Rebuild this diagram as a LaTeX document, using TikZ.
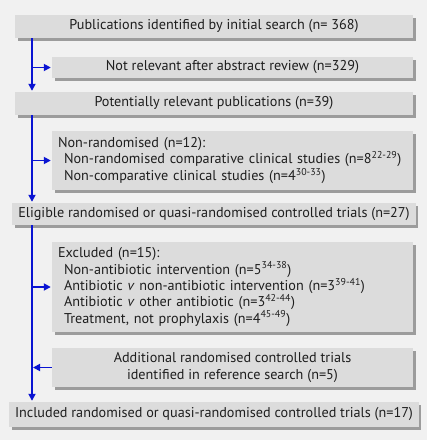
\documentclass[tikz,border=0pt]{standalone}
\usepackage{fontspec}
\setmainfont{PT Sans}
\usepackage{tikz}
\usetikzlibrary{arrows.meta}
\usetikzlibrary{calc}
\usetikzlibrary{shadows}
\definecolor{bgcol}{HTML}{F1F1F1}
\definecolor{boxcol}{HTML}{DCDCDC}
\definecolor{shadowcol}{HTML}{9C9C9C}
\definecolor{txtcol}{HTML}{1E1E1E}
\definecolor{linecol}{HTML}{0A14D2}
\tikzstyle{arrow}= [line width=1.7pt, linecol, -{Triangle[length=7pt,width=7pt]}, shorten >=1pt]

\begin{document}
\begin{tikzpicture}[
		x=1pt, y=-1pt,
    font=\fontsize{14.2}{16.3}\selectfont,
    box/.style={
    fill=boxcol, text=txtcol, inner xsep=6pt, inner ysep=0pt,
    minimum height=23pt,
    drop shadow={shadow xshift=2.5pt, shadow yshift=-2.5pt, fill=shadowcol, opacity=1}
    },
    wide/.style={box, minimum width=398pt},
    narrow/.style={box, minimum width=361pt},
    list/.style={narrow, text width=349pt, align=left}
	]

  \fill[bgcol] (0,0) rectangle (427,440);
  \coordinate (sp) at (32,0);

  \node[wide] (pub) at (214,26.5) {Publications identified by initial search (n= 368)};
  \node[narrow,minimum height=21pt] (notrel) at (232.5,67.5) {Not relevant after abstract review (n=329)};
  \node[wide] (potrel) at (214,103.5) {Potentially relevant publications (n=39)};
  \node[list,minimum height=59pt] (nonrand) at (232.5,160.5) {Non-randomised (n=12):\\
    \hspace*{6pt}Non-randomised comparative clinical studies (n=8\textsuperscript{22-29})\\
    \hspace*{6pt}Non-comparative clinical studies (n=4\textsuperscript{30-33})};
  \node[wide,minimum height=22pt] (elig) at (214,214) {Eligible randomised or quasi-randomised controlled trials (n=27)};
  \node[list,minimum height=90pt] (excl) at (232.5,287) {Excluded (n=15):\\
    \hspace*{6pt}Non-antibiotic intervention (n=5\textsuperscript{34-38})\\
    \hspace*{6pt}Antibiotic \textit{v} non-antibiotic intervention (n=3\textsuperscript{39-41})\\
    \hspace*{6pt}Antibiotic \textit{v} other antibiotic (n=3\textsuperscript{42-44})\\
    \hspace*{6pt}Treatment, not prophylaxis (n=4\textsuperscript{45-49})};
  \node[narrow,minimum height=39pt,align=center] (addl) at (232.5,367.5) {Additional randomised controlled trials\\
    identified in reference search (n=5)};
  \node[wide,minimum height=25pt] (incl) at (214,414.5) {Included randomised or quasi-randomised controlled trials (n=17)};

  % main flow
  \draw[arrow] (pub.south -| sp) -- (potrel.north -| sp);
  \draw[arrow] (potrel.south -| sp) -- (elig.north -| sp);
  \draw[arrow] (elig.south -| sp) -- (incl.north -| sp);
  % side boxes
  \draw[arrow] (notrel.west -| sp) -- (notrel.west);
  \draw[arrow] (nonrand.west -| sp) -- (nonrand.west);
  \draw[arrow] (excl.west -| sp) -- (excl.west);
  \draw[arrow] (addl.west) -- (addl.west -| sp);

\end{tikzpicture}
\end{document}
